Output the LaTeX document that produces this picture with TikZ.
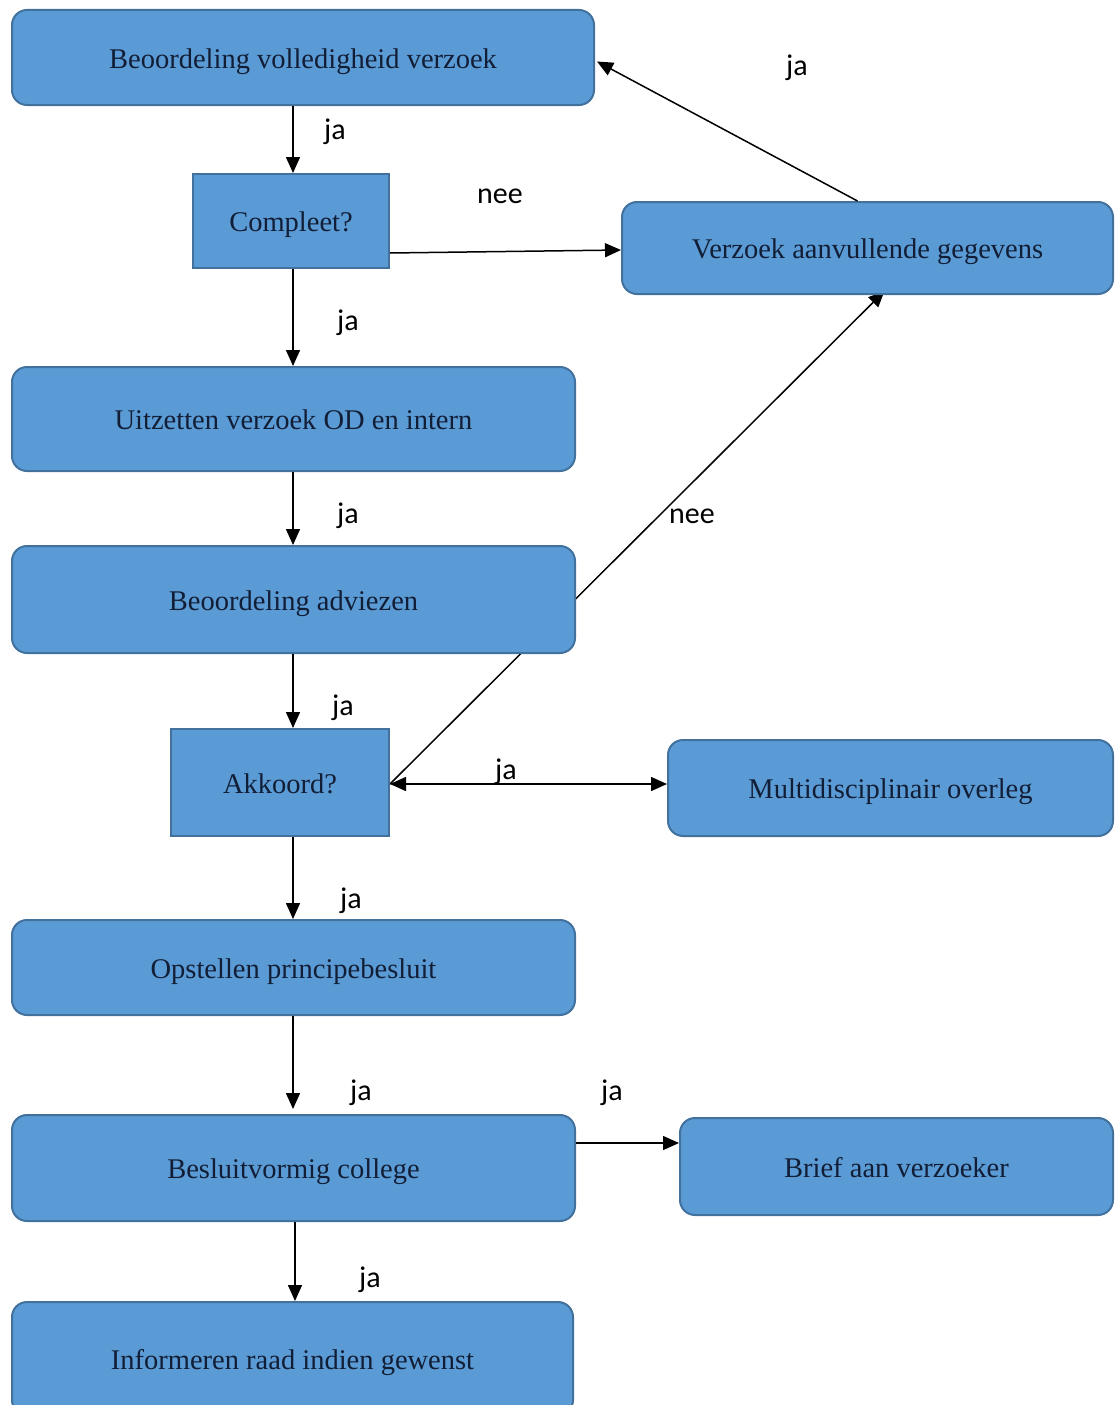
\documentclass[tikz,border=0pt]{standalone}
\usepackage{fontspec}
\setmainfont{Liberation Serif}
\newfontfamily\lblfont{Carlito}
\usetikzlibrary{arrows.meta,calc}
\definecolor{boxfill}{HTML}{5B9BD5}
\definecolor{boxline}{HTML}{41719C}
\definecolor{boxtext}{HTML}{121E36}
\pgfdeclarelayer{bg}
\pgfsetlayers{bg,main}
\begin{document}
\begin{tikzpicture}[x=1pt,y=-1pt,
  basebox/.style={draw=boxline,fill=boxfill,line width=2pt,text=boxtext,
    font=\fontsize{28.5}{32}\selectfont,inner sep=0pt,text height=26pt,text depth=5pt},
  rbox/.style={basebox,rounded corners=15pt},
  sbox/.style={basebox},
  arr/.style={-{Triangle[length=16pt,width=14pt]},line width=1.5pt,black},
  darr/.style={{Triangle[length=16pt,width=14pt]}-{Triangle[length=16pt,width=14pt]},line width=1.5pt,black},
  lbl/.style={font=\lblfont\fontsize{30}{34}\selectfont,text=black,inner sep=0pt}]
\useasboundingbox (0,0) rectangle (1115,1405);
\clip (0,0) rectangle (1115,1405);

\node[rbox,minimum width=582pt,minimum height=95pt] (b1) at (303,57.5) {Beoordeling volledigheid verzoek};
\node[sbox,minimum width=196pt,minimum height=94pt] (c1) at (291,221) {Compleet?};
\node[rbox,minimum width=491pt,minimum height=92pt] (v) at (867.5,248) {Verzoek aanvullende gegevens};
\node[rbox,minimum width=563pt,minimum height=104pt] (u) at (293.5,419) {Uitzetten verzoek OD en intern};
\node[rbox,minimum width=563pt,minimum height=107pt] (a) at (293.5,599.5) {Beoordeling adviezen};
\node[sbox,minimum width=218pt,minimum height=107pt] (k) at (280,782.5) {Akkoord?};
\node[rbox,minimum width=445pt,minimum height=96pt] (m) at (890.5,788) {Multidisciplinair overleg};
\node[rbox,minimum width=563pt,minimum height=95pt] (o) at (293.5,967.5) {Opstellen principebesluit};
\node[rbox,minimum width=563pt,minimum height=106pt] (bc) at (293.5,1168) {Besluitvormig college};
\node[rbox,minimum width=433pt,minimum height=97pt] (br) at (896.5,1166.5) {Brief aan verzoeker};
\node[rbox,minimum width=561pt,minimum height=113pt] (i) at (292.5,1358.5) {Informeren raad indien gewenst};

\coordinate (kE) at ($(k.east)+(0,1.5)$);
\coordinate (bcE) at ($(bc.east)+(0,-25)$);
\coordinate (vS) at ($(v.south)+(17,-4)$);
\coordinate (c1E) at ($(c1.east)+(0,32)$);
\coordinate (vW) at ($(v.west)+(0,2)$);
\coordinate (vN) at ($(v.north)+(-10,0)$);
\coordinate (b1E) at ($(b1.east)+(2,4)$);
\coordinate (bcN) at ($(bc.north -| 293,0)+(0,-5)$);

\begin{pgfonlayer}{bg}
\draw[arr] (kE) -- (vS);
\end{pgfonlayer}
\draw[arr] (b1.south -| 293,0) -- (c1.north -| 293,0);
\draw[arr] (c1E) -- (vW);
\draw[arr] (vN) -- (b1E);
\draw[arr] (c1.south -| 293,0) -- (u.north -| 293,0);
\draw[arr] (u.south -| 293,0) -- (a.north -| 293,0);
\draw[arr] (a.south -| 293,0) -- (k.north -| 293,0);
\draw[darr] (kE) -- (kE -| m.west);
\draw[arr] (k.south -| 293,0) -- (o.north -| 293,0);
\draw[arr] (o.south -| 293,0) -- (bcN);
\draw[arr] (bcE) -- (bcE -| br.west);
\draw[arr] (bc.south -| 295,0) -- (i.north -| 295,0);

\node[lbl] (l1) at (335,132) {ja};
\node[lbl] (l2) at (500,196) {nee};
\node[lbl] (l3) at (797,68) {ja};
\node[lbl] (l4) at (348,323) {ja};
\node[lbl] (l5) at (348,516) {ja};
\node[lbl] (l6) at (692,516) {nee};
\node[lbl] (l7) at (343,708) {ja};
\node[lbl] (l8) at (506,772) {ja};
\node[lbl] (l9) at (351,901) {ja};
\node[lbl] (l10) at (361,1093) {ja};
\node[lbl] (l11) at (612,1093) {ja};
\node[lbl] (l12) at (370,1280) {ja};
\end{tikzpicture}
\end{document}
